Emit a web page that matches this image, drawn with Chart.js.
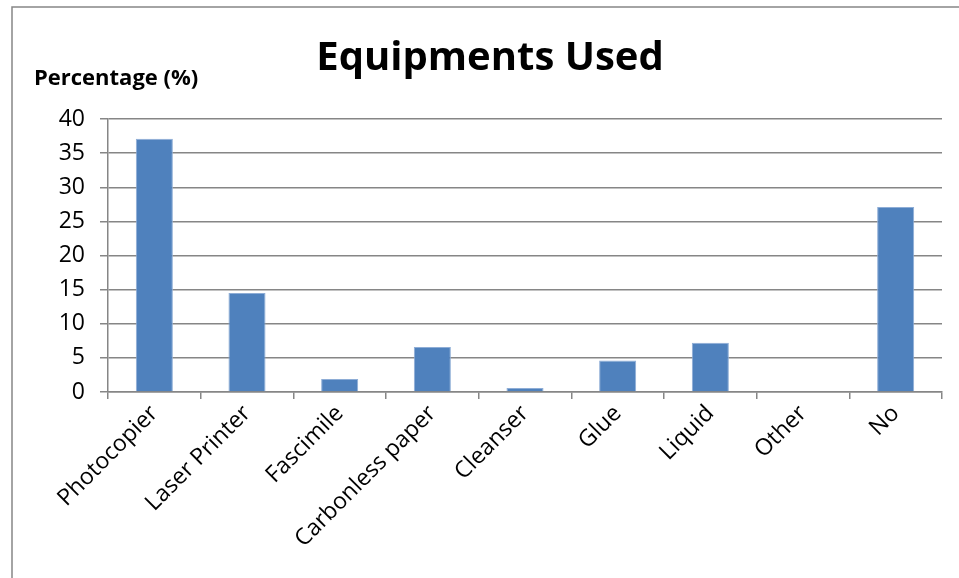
<!DOCTYPE html>
<html>
<head>
<meta charset="utf-8">
<script src="https://cdn.jsdelivr.net/npm/chart.js@4"></script>
<style>
  html, body { margin: 0; padding: 0; background: #fff; }
  #wrap { position: relative; width: 959px; height: 578px; }
</style>
</head>
<body>
<div id="wrap"><canvas id="chart-canvas"></canvas></div>
<script>
const categories = ["Photocopier", "Laser Printer", "Fascimile", "Carbonless paper", "Cleanser", "Glue", "Liquid", "Other", "No"];
const percentages = [37.1, 14.5, 1.9, 6.6, 0.6, 4.6, 7.2, 0, 27.1];
const yTicks = [0, 5, 10, 15, 20, 25, 30, 35, 40];

const FONT = "'Open Sans', sans-serif";
const GRID = "#868686";

// outer frame + horizontal axis caption
const decor = {
  id: "decor",
  beforeDraw(chart) {
    const c = chart.ctx;
    c.save();
    c.fillStyle = "#fff";
    c.fillRect(0, 0, chart.width, chart.height);
    c.strokeStyle = GRID;
    c.lineWidth = 1.5;
    c.beginPath();
    c.moveTo(12, chart.height);
    c.lineTo(12, 7);
    c.lineTo(chart.width, 7);
    c.stroke();
    c.restore();
  },
  afterDraw(chart) {
    const c = chart.ctx;
    const a = chart.chartArea;
    c.save();
    c.fillStyle = "#000";
    c.font = "bold 22px " + FONT;
    c.textBaseline = "middle";
    c.fillText("Percentage (%)", a.left - 74, a.top - 40);
    c.restore();
  }
};

const ctx = document.getElementById("chart-canvas").getContext("2d");
new Chart(ctx, {
  type: "bar",
  data: {
    labels: categories,
    datasets: [{
      data: percentages,
      backgroundColor: "#4F81BD",
      borderColor: "#8EADD6",
      borderWidth: 1,
      borderSkipped: "bottom",
      barPercentage: 0.4,
      categoryPercentage: 1.0
    }]
  },
  options: {
    responsive: true,
    maintainAspectRatio: false,
    animation: false,
    layout: { padding: { left: 38, right: 17, top: 0, bottom: 0 } },
    plugins: {
      legend: { display: false },
      tooltip: { enabled: false },
      title: {
        display: true,
        text: "Equipments Used",
        color: "#000",
        font: { family: FONT, size: 40, weight: "bold" },
        padding: { top: 35, bottom: 36 }
      }
    },
    scales: {
      x: {
        grid: { display: true, drawOnChartArea: false, drawTicks: true, tickLength: 7, color: GRID, lineWidth: 1.5, offset: true },
        border: { display: true, color: GRID, width: 1.5 },
        ticks: { color: "#000", font: { family: FONT, size: 23 }, minRotation: 45, maxRotation: 45, autoSkip: false, padding: 1 },
        afterFit(scale) { scale.height = 186; }
      },
      y: {
        min: 0,
        max: 40,
        afterBuildTicks(scale) { scale.ticks = yTicks.map(v => ({ value: v })); },
        grid: { color: GRID, lineWidth: 1.5, tickLength: 8 },
        border: { display: true, color: GRID, width: 1.5 },
        ticks: { color: "#000", font: { family: FONT, size: 23 }, padding: 15 },
        afterFit(scale) { scale.width = 70; }
      }
    }
  },
  plugins: [decor]
});
</script>
</body>
</html>
